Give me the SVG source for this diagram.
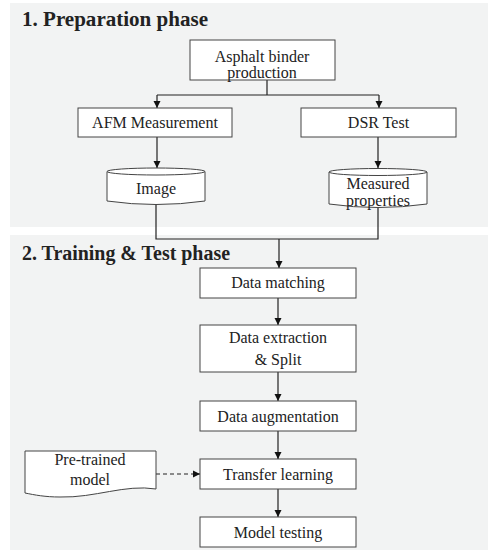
<svg xmlns="http://www.w3.org/2000/svg" width="488" height="551" viewBox="0 0 488 551">
<style>
.panel{fill:#f2f3f3;stroke:none}
.box{fill:#fff;stroke:#444;stroke-width:1}
.lbl{font-family:'Liberation Serif','DejaVu Serif',serif;font-size:16px;fill:#222;text-anchor:middle}
.ttl{font-family:'Liberation Serif','DejaVu Serif',serif;font-size:20px;font-weight:bold;fill:#222}
.con{fill:none;stroke:#222;stroke-width:1.2}
.dash{stroke-dasharray:4 3}
</style>
<defs>
<marker id="ah" markerUnits="userSpaceOnUse" markerWidth="8" markerHeight="8" refX="7" refY="4" orient="auto">
<path d="M0,0.5 L7,4 L0,7.5 Z" fill="#111"/>
</marker>
</defs>
<rect class="panel" x="10" y="3" width="478" height="224"/>
<rect class="panel" x="10" y="235" width="478" height="315"/>
<text class="ttl" x="22" y="26" textLength="186" lengthAdjust="spacingAndGlyphs">1. Preparation phase</text>
<text class="ttl" x="22" y="260" textLength="208" lengthAdjust="spacingAndGlyphs">2. Training &amp; Test phase</text>
<g id="connectors">
<path class="con" d="M267,80 V95 M157,95 H379"/>
<path class="con" d="M157,95 V108" marker-end="url(#ah)"/>
<path class="con" d="M379,95 V108" marker-end="url(#ah)"/>
<path class="con" d="M157,137 V168" marker-end="url(#ah)"/>
<path class="con" d="M378,137 V168" marker-end="url(#ah)"/>
<path class="con" d="M156,205 V239 H378 V208"/>
<path class="con" d="M279,239 V268" marker-end="url(#ah)"/>
<path class="con" d="M278,298 V325" marker-end="url(#ah)"/>
<path class="con" d="M278,372 V401" marker-end="url(#ah)"/>
<path class="con" d="M278,431 V459" marker-end="url(#ah)"/>
<path class="con" d="M278,489 V517" marker-end="url(#ah)"/>
<path class="con dash" d="M156,474 H200" marker-end="url(#ah)"/>
</g>
<g id="asphalt">
<rect class="box" x="190" y="40" width="145" height="40"/>
<text class="lbl" x="262" y="62">Asphalt  binder</text>
<text class="lbl" x="262" y="77.5">production</text>
</g>
<g id="afm">
<rect class="box" x="78" y="108" width="154" height="29"/>
<text class="lbl" x="155" y="128">AFM Measurement</text>
</g>
<g id="dsr">
<rect class="box" x="301" y="108" width="155" height="29"/>
<text class="lbl" x="378.5" y="128">DSR Test</text>
</g>
<g id="image">
<path class="box" d="M107,171.5 V201 Q156,208 205,201 V171.5"/>
<ellipse class="box" cx="156" cy="171.5" rx="49" ry="3.5"/>
<text class="lbl" x="156" y="194">Image</text>
</g>
<g id="measured">
<path class="box" d="M329,172 V204 Q378,211 427,204 V172"/>
<ellipse class="box" cx="378" cy="172" rx="49" ry="3.5"/>
<text class="lbl" x="378" y="189">Measured</text>
<text class="lbl" x="378" y="206">properties</text>
</g>
<g id="matching">
<rect class="box" x="200" y="268" width="156" height="30"/>
<text class="lbl" x="278" y="288">Data matching</text>
</g>
<g id="extraction">
<rect class="box" x="200" y="325" width="156" height="47"/>
<text class="lbl" x="278" y="343">Data extraction</text>
<text class="lbl" x="278" y="365">&amp; Split</text>
</g>
<g id="augmentation">
<rect class="box" x="200" y="401" width="156" height="30"/>
<text class="lbl" x="278" y="422">Data augmentation</text>
</g>
<g id="transfer">
<rect class="box" x="200" y="459" width="156" height="30"/>
<text class="lbl" x="278" y="480">Transfer  learning</text>
</g>
<g id="testing">
<rect class="box" x="200" y="517" width="156" height="30"/>
<text class="lbl" x="278" y="538">Model testing</text>
</g>
<g id="pretrained">
<path class="box" d="M25,451 H156 V489 C125,484 95,498 60,497 C45,497 35,495 25,493 Z"/>
<text class="lbl" x="90" y="465">Pre-trained</text>
<text class="lbl" x="90" y="485">model</text>
</g>
</svg>
